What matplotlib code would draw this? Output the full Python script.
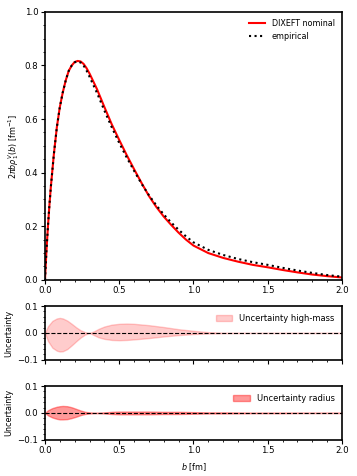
import numpy as np
import matplotlib.pyplot as plt

# main panel: transverse density
b_nom = [0.0, 0.01, 0.02, 0.03, 0.04, 0.05, 0.06, 0.08, 0.10, 0.12, 0.14, 0.16, 0.18, 0.20,
         0.22, 0.24, 0.26, 0.28, 0.30, 0.35, 0.40, 0.45, 0.50, 0.55, 0.60, 0.65, 0.70,
         0.75, 0.80, 0.85, 0.90, 0.95, 1.00, 1.10, 1.20, 1.30, 1.40, 1.50, 1.60, 1.70,
         1.80, 1.90, 2.00]
rho_nom = [0.0, 0.11, 0.20, 0.28, 0.35, 0.41, 0.47, 0.57, 0.645, 0.70, 0.745, 0.78, 0.80,
           0.813, 0.817, 0.815, 0.806, 0.790, 0.770, 0.712, 0.645, 0.580, 0.522, 0.466,
           0.413, 0.362, 0.313, 0.272, 0.236, 0.205, 0.176, 0.150, 0.128, 0.100, 0.082,
           0.068, 0.056, 0.047, 0.037, 0.028, 0.020, 0.014, 0.009]
rho_emp = [0.0, 0.11, 0.20, 0.28, 0.35, 0.41, 0.47, 0.57, 0.645, 0.70, 0.745, 0.78, 0.80,
           0.812, 0.815, 0.811, 0.800, 0.781, 0.758, 0.698, 0.632, 0.569, 0.511, 0.457,
           0.407, 0.359, 0.316, 0.278, 0.244, 0.214, 0.187, 0.162, 0.140, 0.112, 0.093,
           0.078, 0.066, 0.056, 0.045, 0.035, 0.026, 0.018, 0.012]

# uncertainty bands
b_unc = [0.0, 0.02, 0.05, 0.08, 0.10, 0.12, 0.15, 0.18, 0.21, 0.24, 0.27, 0.30, 0.33,
         0.36, 0.40, 0.45, 0.50, 0.55, 0.60, 0.70, 0.80, 0.90, 1.00, 1.10, 1.20, 1.40,
         1.60, 1.80, 2.00]
hm_up = [0.0, 0.025, 0.045, 0.054, 0.056, 0.054, 0.046, 0.034, 0.021, 0.010, 0.003, 0.0,
         0.006, 0.015, 0.024, 0.031, 0.034, 0.035, 0.034, 0.029, 0.022, 0.014, 0.008,
         0.003, 0.001, 0.0, 0.0, 0.0, 0.0]
hm_lo = [0.0, -0.030, -0.055, -0.066, -0.069, -0.068, -0.060, -0.046, -0.031, -0.017,
         -0.006, 0.0, -0.008, -0.016, -0.022, -0.026, -0.027, -0.026, -0.024, -0.019,
         -0.013, -0.008, -0.004, -0.002, -0.001, 0.0, 0.0, 0.0, 0.0]
rad_up = [0.0, 0.010, 0.018, 0.023, 0.025, 0.026, 0.025, 0.021, 0.015, 0.009, 0.004,
          0.002, 0.001, 0.001, 0.002, 0.004, 0.005, 0.005, 0.005, 0.005, 0.004, 0.004,
          0.003, 0.002, 0.002, 0.001, 0.001, 0.0, 0.0]
rad_lo = [0.0, -0.009, -0.017, -0.022, -0.024, -0.024, -0.023, -0.019, -0.014, -0.008,
          -0.004, -0.002, -0.001, -0.001, -0.002, -0.004, -0.005, -0.005, -0.005, -0.005,
          -0.004, -0.004, -0.003, -0.002, -0.002, -0.001, -0.001, 0.0, 0.0]

plt.rcParams['font.size'] = 5.8

fig = plt.figure(figsize=(3.57, 4.76), dpi=100)
ax1 = fig.add_axes([0.126, 0.412, 0.832, 0.563])
ax2 = fig.add_axes([0.126, 0.244, 0.832, 0.113])
ax3 = fig.add_axes([0.126, 0.076, 0.832, 0.113])

ax1.plot(b_nom, rho_nom, color='red', lw=1.5, label='DIXEFT nominal')
ax1.plot(b_nom, rho_emp, color='black', ls=':', lw=1.5, label='empirical')
ax1.set_xlim(0, 2)
ax1.set_ylim(0, 1)
ax1.set_ylabel(r'$2\pi b\rho_1^V(b)$ [fm$^{-1}$]', labelpad=3)
ax1.legend(loc='upper right', frameon=False)

ax2.fill_between(b_unc, hm_lo, hm_up, color='red', alpha=0.2, label='Uncertainty high-mass')
ax2.axhline(0, color='black', ls='--', lw=0.8)
ax2.set_ylabel('Uncertainty', labelpad=3)
ax2.legend(loc='upper right', frameon=False, fontsize=6)
ax2.tick_params(labelbottom=False)

ax3.fill_between(b_unc, rad_lo, rad_up, color='red', alpha=0.4, label='Uncertainty radius')
ax3.axhline(0, color='black', ls='--', lw=0.8)
ax3.set_ylabel('Uncertainty', labelpad=3)
ax3.set_xlabel(r'$b$ [fm]')
ax3.legend(loc='upper right', frameon=False, fontsize=6)

for ax in (ax2, ax3):
    ax.set_xlim(0, 2)
    ax.set_ylim(-0.1, 0.1)
    ax.set_yticks([-0.1, 0.0, 0.1])
for ax in (ax1, ax2, ax3):
    ax.minorticks_on()
    ax.set_xticks([0.0, 0.5, 1.0, 1.5, 2.0])
    ax.tick_params(which='major', length=2.7, pad=2, labelsize=6.2)
    ax.tick_params(which='minor', length=1.5)
    for s in ax.spines.values():
        s.set_linewidth(1.2)

fig.savefig('out.png', dpi=100)
